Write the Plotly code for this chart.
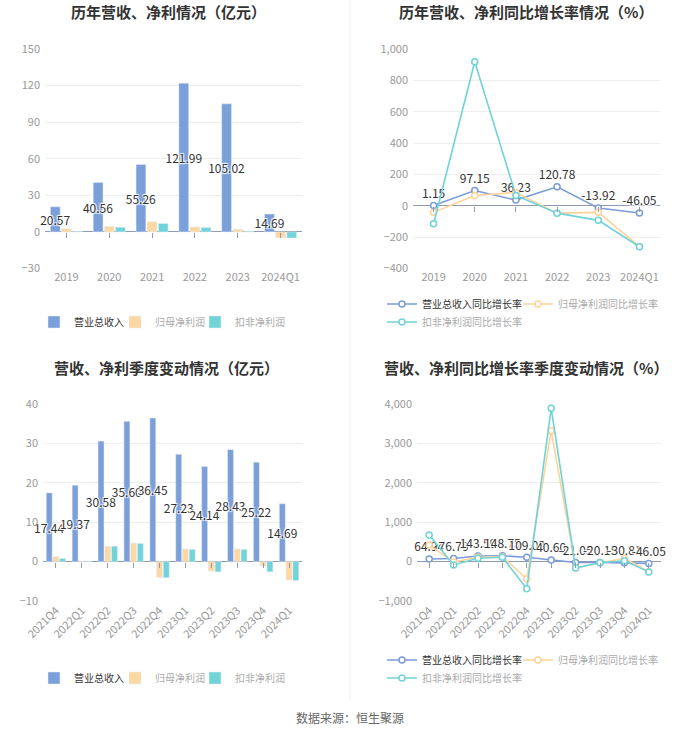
import plotly.graph_objects as go

# ---------------- data ----------------
years = ['2019', '2020', '2021', '2022', '2023', '2024Q1']
revenue = [20.57, 40.56, 55.26, 121.99, 105.02, 14.69]
net_profit = [2.5, 4.4, 8.3, 4.1, 2.2, -4.8]
deducted_profit = [0.38, 3.9, 6.9, 3.6, 0.25, -5.0]

rev_growth = [1.15, 97.15, 36.23, 120.78, -13.92, -46.05]
np_growth = [-42, 66, 85, -47, -42, -259]
ded_growth = [-115, 919, 66, -47, -93, -261]

quarters = ['2021Q4', '2022Q1', '2022Q2', '2022Q3', '2022Q4',
            '2023Q1', '2023Q2', '2023Q3', '2023Q4', '2024Q1']
q_revenue = [17.44, 19.37, 30.58, 35.60, 36.45, 27.23, 24.14, 28.43, 25.22, 14.69]
q_net_profit = [1.3, 0.1, 3.9, 4.7, -4.0, 3.2, -2.4, 3.2, -1.1, -4.7]
q_deducted = [0.8, 0.08, 3.9, 4.6, -4.1, 3.1, -2.6, 3.1, -2.6, -4.8]

q_rev_growth = [64.94, 76.79, 143.59, 148.75, 109.03, 40.60, -21.05, -20.15, -30.81, -46.05]
q_np_growth = [420, -10, 110, 126, -437, 3319, -155, -30, 84, -259]
q_ded_growth = [672, -84, 84, 110, -689, 3890, -165, -30, 20, -261]

# ---------------- style ----------------
W, H = 700, 733
FONT = 'Noto Sans CJK SC'
BLUE = '#7b9fd9'
ORANGE = '#fdd8a2'
TEAL = '#72d3d8'
LBLUE = '#7b9cd6'
LORANGE = '#fdd39a'
LTEAL = '#6fd3d8'
GRID = '#eeeeee'
ZERO = '#8f9bb3'
TICK = '#999999'
SHADOW = '1px 1px 1px #fff, -1px -1px 1px #fff, 1px -1px 1px #fff, -1px 1px 1px #fff'


def px_x(p):
    return p / W


def px_y(p):
    return 1 - p / H


def light(t):
    return "<span style='color:#aaaaaa'>" + t + "</span>"


fig = go.Figure()

# top-left bars
bar_specs = [
    (revenue, BLUE, '营业总收入', True, 'legend'),
    (net_profit, ORANGE, light('归母净利润'), False, 'legend2'),
    (deducted_profit, TEAL, light('扣非净利润'), False, 'legend3'),
]
for vals, col, name, lab, leg in bar_specs:
    fig.add_trace(go.Bar(
        x=years, y=vals, name=name, marker_color=col, xaxis='x', yaxis='y',
        legend=leg,
        text=[f'{v:.2f}' for v in vals] if lab else None,
        textposition='inside' if lab else 'none', insidetextanchor='middle',
        textangle=0, constraintext='none', cliponaxis=False,
        textfont=dict(color='#333333', size=12, family=FONT, shadow=SHADOW),
        hoverinfo='skip'))

# bottom-left bars
qbar_specs = [
    (q_revenue, BLUE, '营业总收入', True, 'legend4'),
    (q_net_profit, ORANGE, light('归母净利润'), False, 'legend5'),
    (q_deducted, TEAL, light('扣非净利润'), False, 'legend6'),
]
for vals, col, name, lab, leg in qbar_specs:
    fig.add_trace(go.Bar(
        x=quarters, y=vals, name=name, marker_color=col, xaxis='x3', yaxis='y3',
        legend=leg,
        text=[f'{v:.2f}' for v in vals] if lab else None,
        textposition='inside' if lab else 'none', insidetextanchor='middle',
        textangle=0, constraintext='none', cliponaxis=False,
        textfont=dict(color='#333333', size=12, family=FONT, shadow=SHADOW),
        hoverinfo='skip'))


def add_line(x, y, col, name, xa, ya, leg, label):
    fig.add_trace(go.Scatter(
        x=x, y=y, name=name, xaxis=xa, yaxis=ya, legend=leg,
        mode='lines+markers+text' if label else 'lines+markers',
        text=[f'{v:.2f}' for v in y] if label else None,
        textposition='top center',
        textfont=dict(color='#333333', size=12, family=FONT, shadow=SHADOW),
        line=dict(color=col, width=1.6),
        marker=dict(symbol='circle', size=6, color='white',
                    line=dict(color=col, width=1.5)),
        cliponaxis=False, hoverinfo='skip'))


add_line(years, rev_growth, LBLUE, '营业总收入同比增长率', 'x2', 'y2', 'legend7', True)
add_line(years, np_growth, LORANGE, light('归母净利润同比增长率'), 'x2', 'y2', 'legend8', False)
add_line(years, ded_growth, LTEAL, light('扣非净利润同比增长率'), 'x2', 'y2', 'legend9', False)

add_line(quarters, q_rev_growth, LBLUE, '营业总收入同比增长率', 'x4', 'y4', 'legend10', True)
add_line(quarters, q_np_growth, LORANGE, light('归母净利润同比增长率'), 'x4', 'y4', 'legend11', False)
add_line(quarters, q_ded_growth, LTEAL, light('扣非净利润同比增长率'), 'x4', 'y4', 'legend12', False)

# ---------------- axes ----------------
xcommon = dict(type='category', showgrid=False, zeroline=False, showline=False,
               ticks='', automargin=False, tickfont=dict(color=TICK, size=11, family=FONT))
ycommon = dict(showgrid=True, gridcolor=GRID, gridwidth=1, zeroline=True,
               zerolinecolor=ZERO, zerolinewidth=1, showline=False, ticks='',
               automargin=False,
               tickfont=dict(color=TICK, size=11, family=FONT), ticklabelstandoff=4)

top_y = [px_y(268.5), px_y(49)]
bot_y = [px_y(601), px_y(404)]

panels = [
    # (x id, y id, x domain, y domain, y range, dtick, categories, tickformat, tickangle)
    ('x', 'y', [px_x(45), px_x(302)], top_y, [-30, 150], 30, years, None, None),
    ('x2', 'y2', [px_x(413), px_x(660)], top_y, [-400, 1000], 200, years, ',', None),
    ('x3', 'y3', [px_x(43), px_x(302)], bot_y, [-10, 40], 10, quarters, None, -45),
    ('x4', 'y4', [px_x(417), px_x(661)], bot_y, [-1000, 4000], 1000, quarters, ',', -45),
]

layout_axes = {}
for i, (xid, yid, xd, yd, yr, dt, cats, tf, ta) in enumerate(panels):
    n = len(cats)
    xname = 'xaxis' + xid[1:]
    yname = 'yaxis' + yid[1:]
    xa = dict(**xcommon, domain=xd, anchor=yid, range=[-0.5, n - 0.5])
    if ta is not None:
        xa['tickangle'] = ta
    ya = dict(**ycommon, domain=yd, anchor=xid, range=yr, dtick=dt)
    if tf:
        ya['tickformat'] = tf
    layout_axes[xname] = xa
    layout_axes[yname] = ya
    # small tick marks hanging below the zero line (axis placed at y = 0)
    tick_id = 5 + i
    zero_pos = yd[0] + (0 - yr[0]) / (yr[1] - yr[0]) * (yd[1] - yd[0])
    layout_axes['xaxis%d' % tick_id] = dict(
        type='linear', overlaying=xid, anchor='free', position=zero_pos,
        domain=xd, range=[-0.5, n - 0.5], tickvals=list(range(n)),
        ticks='outside', ticklen=5, tickwidth=1, tickcolor=ZERO,
        showticklabels=False, showgrid=False, zeroline=False, showline=False,
        automargin=False)
    fig.add_trace(go.Scatter(x=list(range(n)), y=[None] * n, mode='none',
                             xaxis='x%d' % tick_id, yaxis=yid, showlegend=False,
                             hoverinfo='skip'))

fig.update_layout(layout_axes)

legend_common = dict(orientation='h', xanchor='left', yanchor='middle',
                     bgcolor='rgba(0,0,0,0)', font=dict(size=10, color='#333333', family=FONT),
                     itemclick=False, itemdoubleclick=False, tracegroupgap=0)
# (legend id, text start x in px, row y in px)
legend_pos = [
    ('legend', 77, 322), ('legend2', 158, 322), ('legend3', 238, 322),
    ('legend4', 77, 678), ('legend5', 158, 678), ('legend6', 238, 678),
    ('legend7', 425, 304), ('legend8', 561, 304), ('legend9', 425, 322),
    ('legend10', 425, 660), ('legend11', 561, 660), ('legend12', 425, 678),
]
fig.update_layout({lid: dict(**legend_common, x=px_x(tx - 43), y=px_y(ty))
                   for lid, tx, ty in legend_pos})

# titles & source
titles = [
    ('历年营收、净利情况（亿元）', 168, 12),
    ('历年营收、净利同比增长率情况（%）', 526, 12),
    ('营收、净利季度变动情况（亿元）', 166, 367),
    ('营收、净利同比增长率季度变动情况（%）', 526, 367),
]
for t, xx, yy in titles:
    fig.add_annotation(text='<b>' + t + '</b>', x=px_x(xx), y=px_y(yy), xref='paper',
                       yref='paper', showarrow=False, xanchor='center', yanchor='middle',
                       font=dict(size=15, color='#333333', family=FONT))
fig.add_annotation(text='数据来源：恒生聚源', x=px_x(350), y=px_y(717), xref='paper',
                   yref='paper', showarrow=False, xanchor='center', yanchor='middle',
                   font=dict(size=12, color='#666666', family=FONT))

fig.add_shape(type='line', xref='paper', yref='paper', x0=px_x(350), x1=px_x(350),
              y0=px_y(700), y1=1, line=dict(color='#f2f2f2', width=1))

fig.update_layout(
    width=W, height=H, margin=dict(l=0, r=0, t=0, b=0, autoexpand=False),
    paper_bgcolor='white', plot_bgcolor='white',
    barmode='group', bargap=0.22, bargroupgap=0.12,
    font=dict(family=FONT, color='#333333'),
    showlegend=True,
)

fig.write_html('out.html', config={'displayModeBar': False},
               post_script="document.body.style.margin='0px';")
